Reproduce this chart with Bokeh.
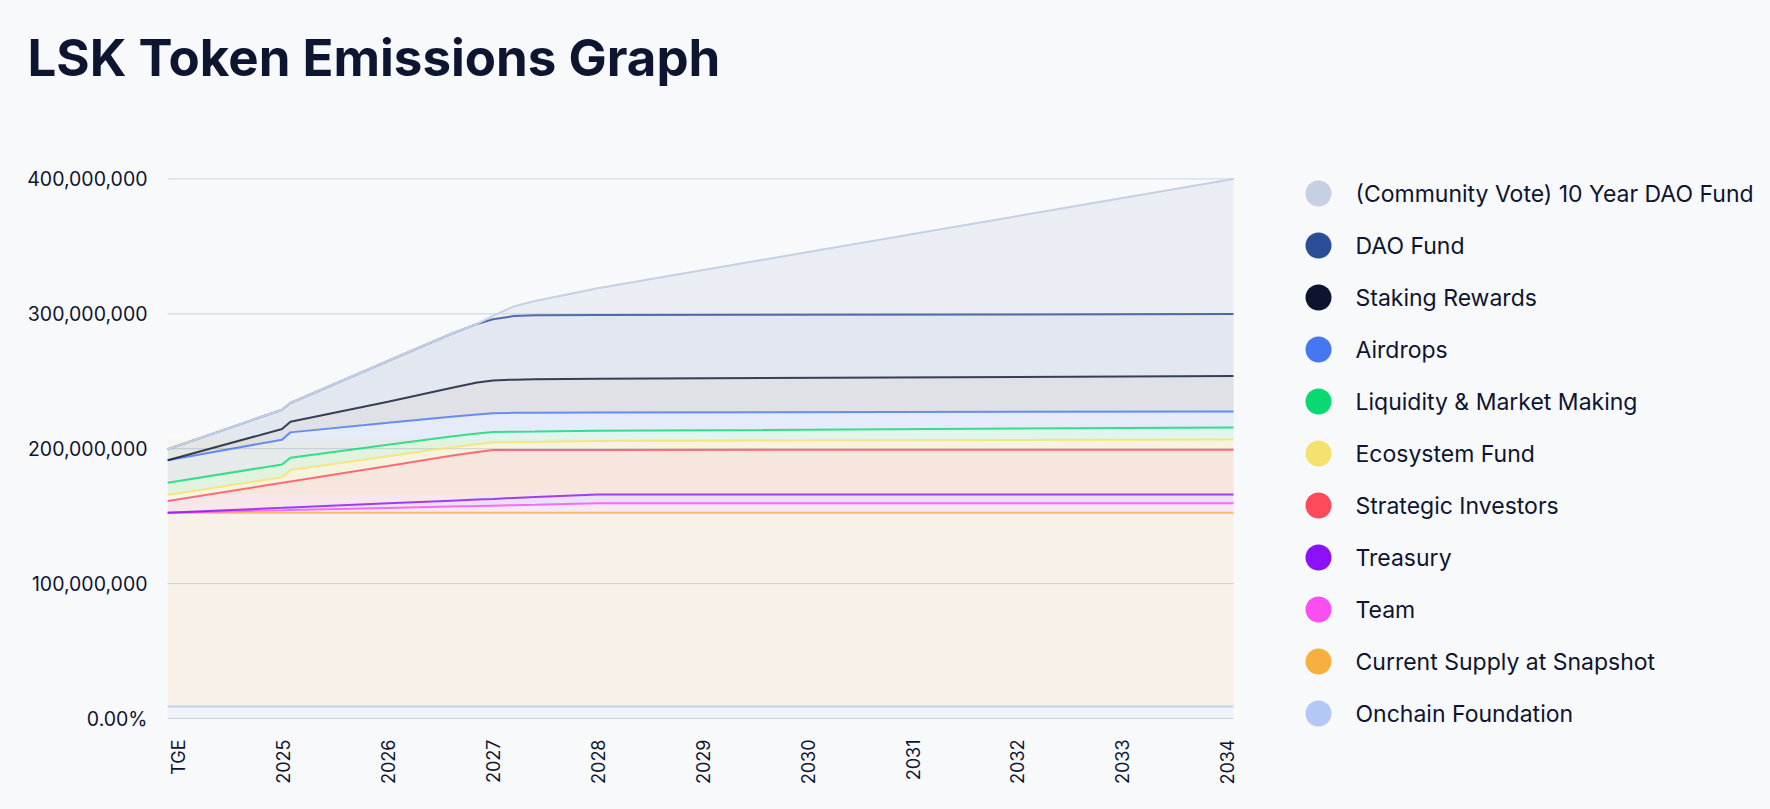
import numpy as np
from bokeh.plotting import figure
from bokeh.models import Range1d
from bokeh.embed import file_html
from bokeh.resources import INLINE
from bokeh.core.properties import value

# ---------------- data (values in millions of LSK) ----------------
tick_labels = ["TGE", "2025", "2026", "2027", "2028", "2029", "2030", "2031", "2032", "2033", "2034"]
# time points, in years relative to the "TGE" tick
t_years = [-0.10, 0.99, 1.07, 2.00, 2.60, 2.85, 3.00, 3.20, 3.40, 4.00, 10.06]

community_vote = [199.6, 228.9, 233.9, 265.0, 285.0, 292.5, 298.5, 305.5, 309.5, 319.0, 400.0]
dao_fund       = [199.6, 228.9, 233.9, 265.0, 285.0, 292.5, 296.0, 298.3, 299.0, 299.1, 299.8]
staking        = [191.4, 214.6, 220.0, 234.8, 245.0, 249.0, 250.6, 251.2, 251.4, 251.9, 253.9]
airdrops       = [191.4, 206.7, 212.1, 219.2, 223.7, 225.3, 226.2, 226.6, 226.7, 226.8, 227.6]
liquidity      = [174.8, 188.3, 193.3, 202.9, 209.1, 211.3, 212.3, 212.6, 212.7, 213.3, 215.8]
ecosystem      = [165.7, 178.8, 184.2, 194.4, 201.0, 203.3, 204.6, 204.9, 205.0, 205.7, 206.9]
strategic      = [161.3, 174.7, 175.7, 187.1, 194.7, 197.6, 199.0, 199.1, 199.1, 199.1, 199.3]
treasury       = [152.6, 156.2, 156.5, 159.5, 161.5, 162.3, 162.8, 163.5, 164.2, 166.1, 166.1]
team           = [152.6, 154.4, 154.6, 156.1, 157.1, 157.5, 157.8, 158.1, 158.4, 159.5, 159.5]
current_supply = [152.6] * 11
onchain        = [8.9] * 11

series_names = ["(Community Vote) 10 Year DAO Fund", "DAO Fund", "Staking Rewards", "Airdrops",
                "Liquidity & Market Making", "Ecosystem Fund", "Strategic Investors", "Treasury",
                "Team", "Current Supply at Snapshot", "Onchain Foundation"]
series_values = [community_vote, dao_fund, staking, airdrops, liquidity, ecosystem, strategic,
                 treasury, team, current_supply, onchain]
series_colors = ["#c5d0e3", "#2b4c96", "#0d1430", "#4677f0", "#0ad873", "#f5e26e", "#ff4a5b",
                 "#8b11f9", "#f94ef0", "#f7b040", "#b3c8f5"]
y_ticks = [0, 100, 200, 300, 400]
y_tick_labels = ["0.00%", "100,000,000", "200,000,000", "300,000,000", "400,000,000"]

BG = "#f8f9fb"
INK = "#0e1530"
FONT = "Inter"
M = 1e6

# ---------------- layout geometry (screen px) ----------------
W, H = 1768, 808
ZERO_PX = 718               # px from top where value 0 sits
PX_PER_YEAR = 104.9
X0_PX = 177.7               # px of the "TGE" tick
PX_PER_M = 1.349            # px per million tokens


def sx(px):  # screen px -> x data
    return (px - X0_PX) / PX_PER_YEAR


def sy(py):  # screen px (from top) -> y data (tokens)
    return (ZERO_PX - np.asarray(py, dtype=float)) / PX_PER_M * M


p = figure(width=W, height=H, output_backend="svg", toolbar_location=None,
           x_range=Range1d(sx(0), sx(W)), y_range=Range1d(float(sy(H)), float(sy(0))),
           x_axis_location=None, y_axis_location=None, min_border=0)
p.background_fill_color = BG
p.border_fill_color = BG
p.outline_line_color = None
p.grid.visible = False

x = np.array(t_years)
vals = [np.array(v) * M for v in series_values]
n = len(vals)
yt = [v * M for v in y_ticks]

# horizontal grid lines over the chart span
p.segment(x0=[t_years[0]] * len(yt), x1=[t_years[-1]] * len(yt), y0=yt, y1=yt,
          line_color="#c9d2e4", line_width=1)

# fills: each series filled down to the one below it
for i in range(n - 1, -1, -1):
    lower = vals[i + 1] if i + 1 < n else np.zeros_like(x)
    alpha = 0.28 if i == 0 else 0.1
    p.varea(x=x, y1=lower, y2=vals[i], fill_color=series_colors[i], fill_alpha=alpha)

# ecosystem fund fill artefact (band between final treasury and final ecosystem values)
p.quad(left=[t_years[0]], right=[t_years[-1]], bottom=[treasury[-1] * M], top=[ecosystem[-1] * M],
       fill_color=series_colors[5], fill_alpha=0.1, line_color=None)

for i in range(n - 1, -1, -1):
    p.line(x, vals[i], line_color=series_colors[i], line_width=2,
           line_alpha=1.0 if i == 0 else 0.8)

# y tick labels
p.text(x=[sx(147)] * len(yt), y=yt, text=y_tick_labels, text_align="right",
       text_baseline="middle", text_font=value(FONT), text_font_size="19.5px", text_color=INK)

# x tick labels (rotated, reading upwards, ending just below the chart)
xt = list(range(len(tick_labels)))
p.text(x=xt, y=[float(sy(739))] * len(xt), text=tick_labels, angle=np.pi / 2,
       text_align="right", text_baseline="middle", text_font=value(FONT),
       text_font_size="18px", text_color=INK)

# title
p.text(x=[sx(27)], y=[float(sy(57))], text=["LSK Token Emissions Graph"], text_align="left",
       text_baseline="alphabetic", text_font=value(FONT), text_font_style=value("bold"),
       text_font_size="51px", text_color=INK)

# legend
rows_idx = np.arange(len(series_names))
row_py = 193 + 52 * rows_idx
p.scatter(x=[sx(1318)] * len(rows_idx), y=sy(row_py), size=26, marker="circle",
          fill_color=series_colors, line_color=None)
p.text(x=[sx(1355)] * len(rows_idx), y=sy(row_py), text=series_names, text_baseline="middle",
       text_font=value(FONT), text_font_size="23px", text_color=INK)

html = file_html(p, INLINE)
html = html.replace("</head>", "<style>html,body{background:%s;}</style></head>" % BG, 1)
open("out.html", "w").write(html)
